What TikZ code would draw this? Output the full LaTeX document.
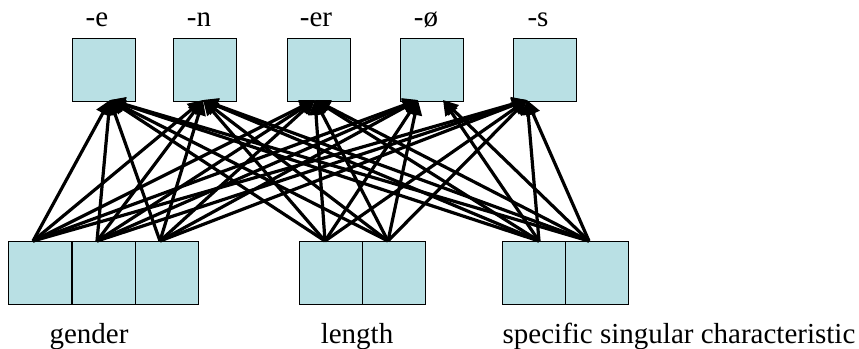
\documentclass[tikz,border=0pt]{standalone}
\usepackage{fontspec}
\setmainfont{Liberation Serif}
\usetikzlibrary{arrows.meta}
\definecolor{cellfill}{RGB}{185,224,228}
\begin{document}
\begin{tikzpicture}[x=1pt,y=-1pt,
  cell/.style={draw=black, line width=1.4pt, fill=cellfill, minimum width=63pt,
               minimum height=63pt, inner sep=0pt, anchor=north west},
  lbl/.style={font=\fontsize{29}{31}\selectfont, anchor=base, inner sep=0pt},
  link/.style={line width=3.2pt, -{Triangle[length=15pt,width=14pt]}}]
\useasboundingbox (0,0) rectangle (859,348);

% output units (suffixes)
\node[cell] (e)  at (72,38)  {};
\node[cell] (n)  at (173,38) {};
\node[cell] (er) at (287,38) {};
\node[cell] (o)  at (400,38) {};
\node[cell] (s)  at (513,38) {};

\node[lbl] (le)  at (97,26)  {-e};
\node[lbl] (ln)  at (199,26) {-n};
\node[lbl] (ler) at (316,26) {-er};
\node[lbl] (lo)  at (426,26) {-ø};
\node[lbl] (ls)  at (538,26) {-s};

% input units
\node[cell] (g1) at (8,241)   {};
\node[cell] (g2) at (72,241)  {};
\node[cell] (g3) at (135,241) {};
\node[cell] (l1) at (299,241) {};
\node[cell] (l2) at (362,241) {};
\node[cell] (c1) at (502,241) {};
\node[cell] (c2) at (565,241) {};

\node[lbl] (lg) at (89,343)  {gender};
\node[lbl] (ll) at (357,343) {length};
\node[lbl] (lc) at (679,343) {specific singular characteristic};

% connection ports
\coordinate (pg1) at (33,241);
\coordinate (pg2) at (97,241);
\coordinate (pg3) at (160,241);
\coordinate (pl1) at (325,241);
\coordinate (pl2) at (388,241);
\coordinate (pc1) at (539,241);
\coordinate (pc2) at (589,241);

\coordinate (qe)  at (110,100);
\coordinate (qn)  at (203,100);
\coordinate (qer) at (315,100);
\coordinate (qo)  at (418,100);
\coordinate (qo2) at (443,100);
\coordinate (qs)  at (527,100);

% full connectivity from inputs to outputs
\foreach \src in {pg1,pg2,pg3,pl1,pl2}{
  \foreach \dst in {qe,qn,qer,qo,qs}{
    \draw[link] (\src) -- (\dst);
  }
}
\foreach \src in {pc1,pc2}{
  \foreach \dst in {qe,qn,qer,qo2,qs}{
    \draw[link] (\src) -- (\dst);
  }
}
\end{tikzpicture}
\end{document}
